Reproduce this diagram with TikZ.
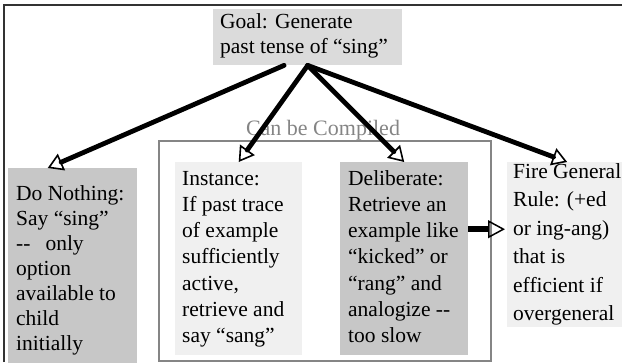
\documentclass[tikz,border=0pt]{standalone}
\usepackage{fontspec}
\setmainfont{Liberation Serif}
\usepackage{xcolor}
\usetikzlibrary{arrows.meta}

\definecolor{goalfill}{gray}{0.86}
\definecolor{darkfill}{gray}{0.78}
\definecolor{lightfill}{gray}{0.94}
\definecolor{compgray}{gray}{0.52}

\begin{document}
\begin{tikzpicture}[x=1pt, y=-1pt,
	box/.style={inner sep=0pt, anchor=north west},
	txt/.style={inner sep=0pt, anchor=base west, font=\fontsize{21.5}{#1}\selectfont},
	txt/.default=25,
	flow/.style={line width=4.8pt, line cap=round, -{Triangle[open, length=15pt, width=18pt, line width=1.6pt]}}]
	\useasboundingbox (0,0) rectangle (622,362);

	% outer frame (top and left only)
	\draw[line width=1.5pt, black!80] (4,362) -- (4,5) -- (622,5);

	% goal
	\node[box, fill=goalfill, minimum width=189pt, minimum height=56pt] (goal) at (213,9) {};
	\node[txt] (goaltxt) at (220,28) {\parbox[t]{200pt}{Goal: Generate\\ past tense of “sing”}};

	% compiled group
	\node[txt, anchor=base, text=compgray, font=\fontsize{22}{26}\selectfont] (comptxt) at (323,135) {Can be Compiled};
	\node[box, draw=compgray, line width=1.6pt, minimum width=332pt, minimum height=220pt] (compiled) at (158,140) {};

	% the four options
	\node[box, fill=darkfill, minimum width=129pt, minimum height=200pt] (nothing) at (8,168) {};
	\node[txt] (nothingtxt) at (16,200) {\parbox[t]{130pt}{Do Nothing:\\ Say “sing”\\ -{}-\hspace{15pt}only\\ option\\ available to\\ child\\ initially}};

	\node[box, fill=lightfill, minimum width=127pt, minimum height=193pt] (inst) at (175,162) {};
	\node[txt=26.3] (insttxt) at (182,185) {\parbox[t]{130pt}{Instance:\\ If past trace\\ of example\\ sufficiently\\ active,\\ retrieve and\\ say “sang”}};

	\node[box, fill=darkfill, minimum width=128pt, minimum height=193pt] (delib) at (340,162) {};
	\node[txt=26.3] (delibtxt) at (348,185) {\parbox[t]{130pt}{Deliberate:\\ Retrieve an\\ example like\\ “kicked” or\\ “rang” and\\ analogize -{}-\\ too slow}};

	\node[box, fill=lightfill, minimum width=120pt, minimum height=165pt] (fire) at (507,162) {};
	\node[txt=28.5] (firetxt) at (513,178) {\parbox[t]{130pt}{Fire General\\ Rule: (+ed\\ or ing-ang)\\ that is\\ efficient if\\ overgeneral}};

	% arrows from the goal
	\draw[flow] (goal.230) -- (nothing.104);
	\draw[flow] (goal.south) -- (inst.north);
	\draw[flow] (goal.south) -- (delib.north);
	\draw[flow] (goal.south) -- (fire.north);

	% deliberate falls back to the general rule
	\coordinate (d) at ([yshift=29.5pt]delib.east);
	\draw[line width=6pt, shorten >=2pt, -{Triangle[open, length=17pt, width=18pt, line width=1.5pt]}] (d) -- (d -| fire.west);
\end{tikzpicture}
\end{document}
